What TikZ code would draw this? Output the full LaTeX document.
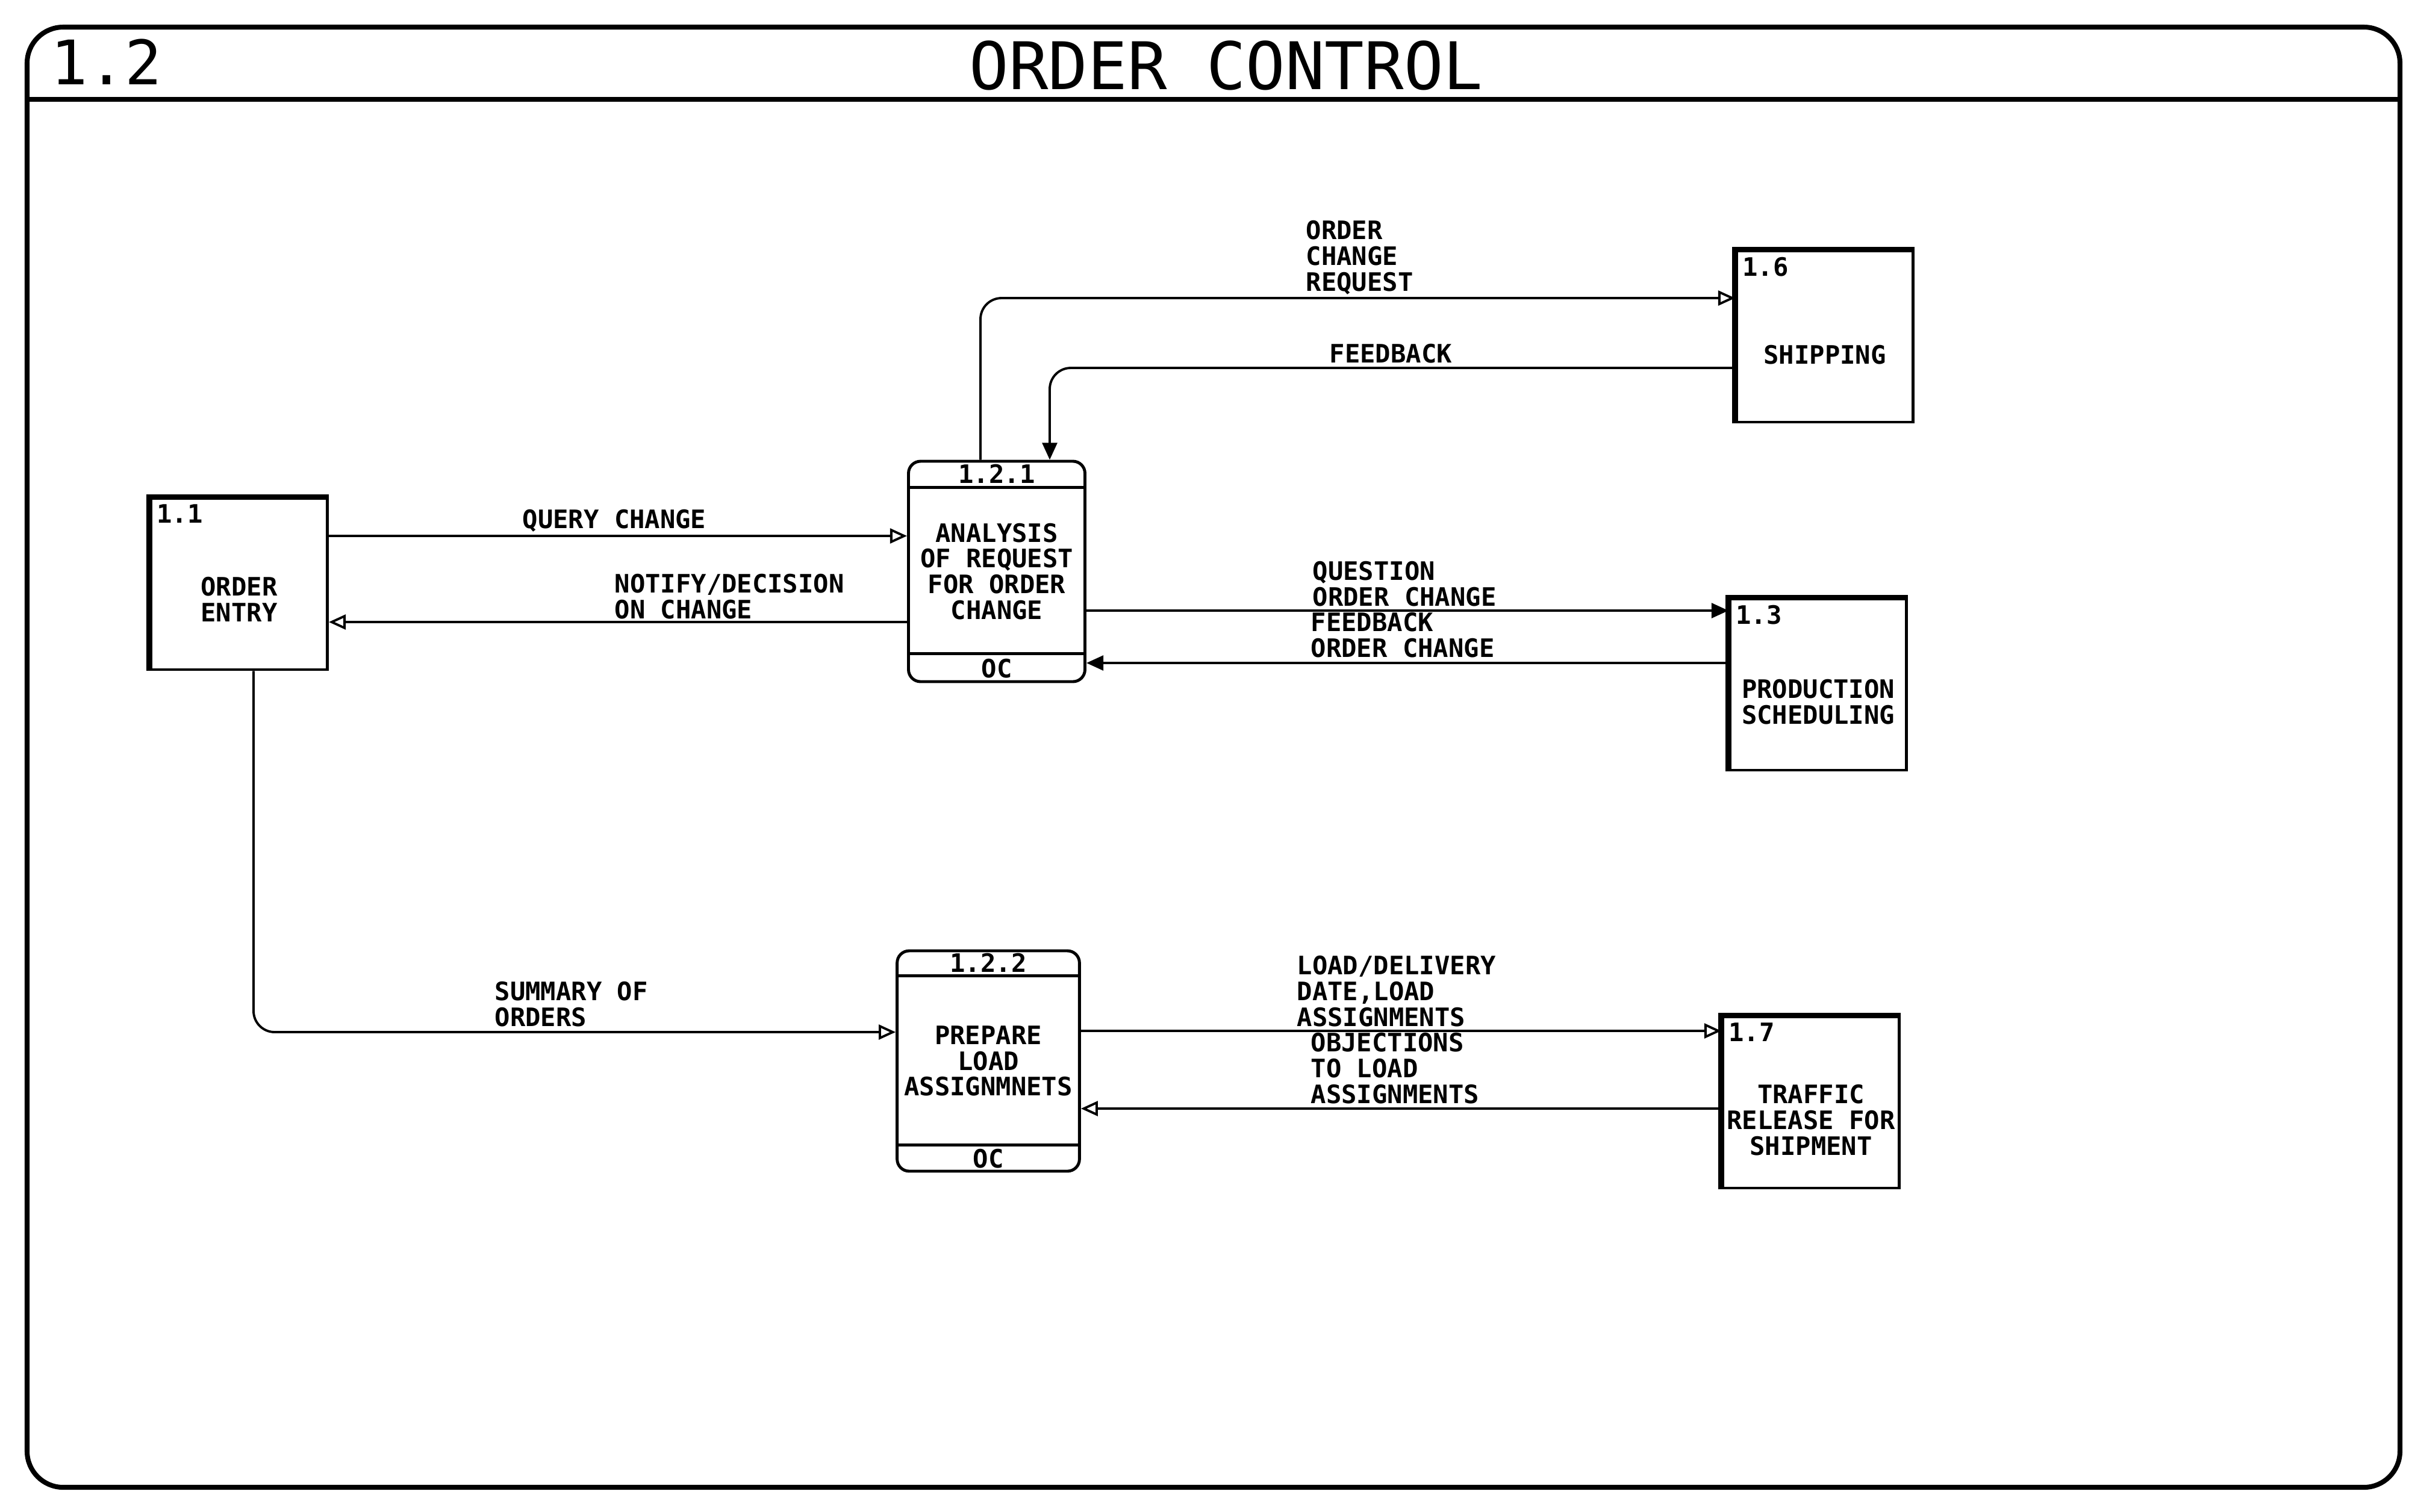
\documentclass[tikz,border=0pt]{standalone}
\usepackage{fontspec}
\setmainfont{DejaVu Sans Mono}
\usepackage{tikz}
\usetikzlibrary{arrows.meta}

\begin{document}
\begin{tikzpicture}[
    every node/.style={font=\bfseries\fontsize{12}{12.2}\selectfont, align=center},
    ent/.style={draw, line width=1.4pt, minimum width=2.93cm, minimum height=2.84cm},
    proc/.style={draw, line width=1.4pt, rounded corners=0.2cm, minimum width=2.93cm, minimum height=3.66cm},
    flow/.style={line width=1.1pt, -{Triangle[open,length=8pt,width=7pt]}},
    flowf/.style={line width=1.1pt, -{Triangle[length=8pt,width=7pt]}},
    lbl/.style={anchor=west, align=left, inner sep=0pt}
  ]
            \useasboundingbox (0,0) rectangle (40,-25.1);

            % frame and title
            \draw[line width=2.3pt, rounded corners=0.6cm] (0.45,-0.45) rectangle (39.85,-24.7);
            \draw[line width=2.3pt] (0.45,-1.65) -- (39.85,-1.65);
            \node[font=\fontsize{29}{30}\selectfont, anchor=base] (num) at (1.77,-1.40) {1.2};
            \node[font=\fontsize{31}{32}\selectfont, anchor=base] (title) at (20.36,-1.48) {ORDER CONTROL};

            % external entities
            \node[ent] (e11) at (3.97,-9.70) {};
            \node[ent] (e16) at (30.30,-5.59) {};
            \node[ent] (e13) at (30.19,-11.37) {};
            \node[ent] (e17) at (30.07,-18.31) {};
            \foreach \e in {e11,e16,e13,e17}
                \draw[line width=2.8pt] (\e.south west) -- (\e.north west) -- (\e.north east);

            \node[anchor=north west] (n11) at (e11.north west) {1.1};
            \node[anchor=north west] (n16) at (e16.north west) {1.6};
            \node[anchor=north west] (n13) at (e13.north west) {1.3};
            \node[anchor=north west] (n17) at (e17.north west) {1.7};

            \node (e11t) at ([yshift=-0.25cm]e11.center) {ORDER\\ENTRY};
            \node (e16t) at ([yshift=-0.30cm]e16.center) {SHIPPING};
            \node (e13t) at ([yshift=-0.29cm]e13.center) {PRODUCTION\\SCHEDULING};
            \node (e17t) at ([yshift=-0.29cm]e17.center) {TRAFFIC\\RELEASE FOR\\SHIPMENT};

            % processes
            \node[proc] (p121) at (16.55,-9.49) {ANALYSIS\\OF REQUEST\\FOR ORDER\\CHANGE};
            \node[proc] (p122) at (16.41,-17.62) {PREPARE\\LOAD\\ASSIGNMNETS};

            \draw[line width=1.4pt] ([yshift=-0.46cm]p121.north west) -- ([yshift=-0.46cm]p121.north east);
            \draw[line width=1.4pt] ([yshift=0.49cm]p121.south west) -- ([yshift=0.49cm]p121.south east);
            \draw[line width=1.4pt] ([yshift=-0.44cm]p122.north west) -- ([yshift=-0.44cm]p122.north east);
            \draw[line width=1.4pt] ([yshift=0.46cm]p122.south west) -- ([yshift=0.46cm]p122.south east);

            \node (n121) at ([yshift=-0.23cm]p121.north) {1.2.1};
            \node (o121) at ([yshift=0.245cm]p121.south) {OC};
            \node (n122) at ([yshift=-0.22cm]p122.north) {1.2.2};
            \node (o122) at ([yshift=0.23cm]p122.south) {OC};

            % data flows
            \draw[flow] ([yshift=0.80cm]e11.east) -- ([yshift=0.80cm]e11.east -| p121.west);
            \draw[flow] ([yshift=-0.63cm]e11.east -| p121.west) -- ([yshift=-0.63cm]e11.east);
            \draw[flow, rounded corners=0.35cm] ([xshift=-0.27cm]p121.north) |- ([yshift=0.64cm]e16.west);
            \draw[flowf, rounded corners=0.35cm] ([yshift=-0.52cm]e16.west) -| ([xshift=0.88cm]p121.north);
            \draw[flowf] ([yshift=1.23cm]e13.west -| p121.east) -- ([yshift=1.23cm]e13.west);
            \draw[flowf] ([yshift=0.36cm]e13.west) -- ([yshift=0.36cm]e13.west -| p121.east);
            \draw[flow, rounded corners=0.35cm] ([xshift=0.24cm]e11.south) |- ([yshift=0.48cm]p122.west);
            \draw[flow] ([yshift=1.19cm]e17.west -| p122.east) -- ([yshift=1.19cm]e17.west);
            \draw[flow] ([yshift=-0.10cm]e17.west) -- ([yshift=-0.10cm]e17.west -| p122.east);

            % flow labels
            \node[lbl] (l1) at (8.67,-8.65) {QUERY CHANGE};
            \node[lbl] (l2) at (10.20,-9.91) {NOTIFY/DECISION\\ON CHANGE};
            \node[lbl] (l3) at (21.68,-4.28) {ORDER\\CHANGE\\REQUEST};
            \node[lbl] (l4) at (22.07,-5.87) {FEEDBACK};
            \node[lbl] (l5) at (21.79,-9.70) {QUESTION\\ORDER CHANGE};
            \node[lbl] (l6) at (21.76,-10.55) {FEEDBACK\\ORDER CHANGE};
            \node[lbl] (l7) at (8.21,-16.68) {SUMMARY OF\\ORDERS};
            \node[lbl] (l8) at (21.53,-16.46) {LOAD/DELIVERY\\DATE,LOAD\\ASSIGNMENTS};
            \node[lbl] (l9) at (21.76,-17.74) {OBJECTIONS\\TO LOAD\\ASSIGNMENTS};
        \end{tikzpicture}
\end{document}
